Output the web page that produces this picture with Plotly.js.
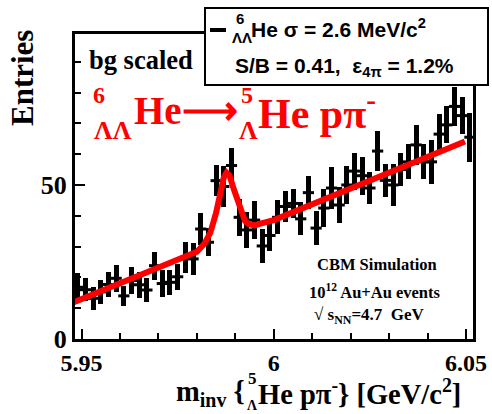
<!DOCTYPE html>
<html>
<head>
<meta charset="utf-8">
<script src="https://cdn.plot.ly/plotly-3.0.1.min.js"></script>
<style>
html,body{margin:0;padding:0;background:#fff;}
#chart{width:492px;height:414px;}
</style>
</head>
<body>
<div id="chart"></div>
<script>
// ---- data ----
const binCenters = [5.949, 5.951, 5.953, 5.955, 5.957, 5.959, 5.961, 5.963, 5.965, 5.967,
  5.969, 5.971, 5.973, 5.975, 5.977, 5.979, 5.981, 5.983, 5.985, 5.987,
  5.989, 5.991, 5.993, 5.995, 5.997, 5.999, 6.001, 6.003, 6.005, 6.007,
  6.009, 6.011, 6.013, 6.015, 6.017, 6.019, 6.021, 6.023, 6.025, 6.027,
  6.029, 6.031, 6.033, 6.035, 6.037, 6.039, 6.041, 6.043, 6.045, 6.047,
  6.049, 6.051];
const counts = [16.8, 16, 13.2, 15.3, 17.7, 19.7, 14, 19, 17.6, 15.9,
  23.8, 18, 18.4, 20.2, 26.5, 26, 35.7, 31.4, 51.4, 49.5,
  56.3, 39.5, 35.4, 38.6, 30.2, 33.6, 39.5, 43, 44, 39,
  47.5, 36, 42.5, 49, 43.5, 50, 54.5, 53, 49, 61,
  51.5, 50, 55, 57.5, 63, 57.5, 57.5, 66.5, 69.5, 75.5,
  72.5, 65.5];
const errors = [4.6, 3.8, 3.8, 3.8, 4.1, 4.3, 3.2, 4.3, 4.3, 3.8,
  4.6, 4.3, 4.1, 4.3, 5.1, 5.1, 5.1, 4.6, 5.1, 6.5,
  5.7, 6.0, 5.9, 6.3, 5.4, 5.0, 5.5, 5.1, 4.8, 5.4,
  5.4, 5.4, 6.2, 6.8, 6.0, 6.2, 6.0, 6.2, 5.2, 6.5,
  5.4, 6.8, 5.4, 5.7, 6.5, 5.7, 7.2, 6.5, 6.0, 6.2,
  6.0, 8.0];
// fit curve points
const fitX = [5.948, 5.980, 5.982, 5.9835, 5.985, 5.986, 5.987, 5.9877, 5.9885, 5.9895,
  5.9905, 5.9915, 5.9925, 5.9935, 5.995, 5.997, 6.000, 6.0497];
const fitY = [11.9, 28.3, 31.0, 34.5, 41.0, 47.5, 52.5, 54.0, 53.0, 49.0,
  45.0, 41.0, 38.3, 37.3, 36.9, 37.6, 38.6, 64.1];
const xTickVals = [5.95, 6.0, 6.05];
const xTickText = ['5.95', '6', '6.05'];
const yTickVals = [0, 50];
const yTickText = ['0', '50'];

// ---- layout helpers (pixel -> paper) ----
const L = 75, T = 34, W = 398, H = 305;
function P(px, py) { return {x: (px - L) / W, y: (T + H - py) / H}; }
const SERIF = 'Liberation Serif';
const SANS = 'Liberation Sans';
function ann(text, px, py, o) {
  o = o || {};
  const p = P(px, py);
  return {
    text: text, x: p.x, y: p.y, xref: 'paper', yref: 'paper', showarrow: false,
    xanchor: o.xanchor || 'center', yanchor: o.yanchor || 'middle',
    textangle: o.angle || 0, borderpad: 0,
    font: {family: o.family || SERIF, size: o.size || 16, color: o.color || '#000', weight: 'bold'}
  };
}

// error bars drawn as narrow bars from (count - err) to (count + err)
const barBase = counts.map((c, i) => c - errors[i]);
const barLen = errors.map(e => 2 * e);

const traces = [
  {
    type: 'bar', x: binCenters, base: barBase, y: barLen, width: 0.0013,
    marker: {color: '#000', line: {width: 0}}, showlegend: false, hoverinfo: 'skip'
  },
  {
    type: 'scatter', mode: 'markers', x: binCenters, y: counts,
    marker: {symbol: 'line-ew', size: 8, color: '#000', line: {width: 3, color: '#000'}},
    showlegend: false, hoverinfo: 'x+y'
  },
  {
    type: 'scatter', mode: 'lines', x: fitX, y: fitY,
    line: {color: '#ff0000', width: 6},
    showlegend: false
  }
];

const RED = '#ff0000';
const annotations = [
  ann('Entries', 22, 78, {size: 31, angle: -90}),
  ann('bg scaled', 88, 60, {size: 26.5, xanchor: 'left'}),
  // red decay label
  ann('6', 99, 95, {size: 24, color: RED}),
  ann('ΛΛ', 113, 130, {size: 26, color: RED}),
  ann('He⟶', 133, 110, {size: 39, color: RED, xanchor: 'left'}),
  ann('5', 247, 95, {size: 24, color: RED}),
  ann('Λ', 248, 130, {size: 26, color: RED}),
  ann('He pπ<sup>-</sup>', 257, 110, {size: 42, color: RED, xanchor: 'left'}),
  // legend box text
  ann('6', 240, 19, {size: 15, family: SANS}),
  ann('ΛΛ', 242, 37, {size: 15, family: SANS}),
  ann('He σ = 2.6 MeV/c<sup>2</sup>', 250, 28, {size: 21, family: SANS, xanchor: 'left'}),
  ann('S/B = 0.41,  ε<sub>4π</sub> = 1.2%', 234, 67, {size: 21, family: SANS, xanchor: 'left'}),
  // CBM text
  ann('CBM Simulation', 377, 264, {size: 16.5}),
  ann('10<sup>12</sup> Au+Au events', 375, 291, {size: 16.5}),
  ann('√ s<sub>NN</sub>=4.7  GeV', 313, 316, {size: 17, xanchor: 'left'}),
  // x title, split around the stacked 5/Λ
  ann('m<sub>inv</sub> {', 246, 393, {size: 28.5, xanchor: 'right'}),
  ann('5', 252, 378, {size: 17}),
  ann('Λ', 252, 405, {size: 14}),
  ann('He pπ<sup>-</sup>} [GeV/c<sup>2</sup>]', 257, 392, {size: 28.5, xanchor: 'left'})
];

const p1 = P(205, 8), p2 = P(488, 85), s1 = P(210, 30), s2 = P(226, 30);
const shapes = [
  {type: 'rect', xref: 'paper', yref: 'paper', x0: p1.x, y0: p1.y, x1: p2.x, y1: p2.y,
   line: {color: '#000', width: 2}, fillcolor: '#fff', layer: 'above'},
  {type: 'line', xref: 'paper', yref: 'paper', x0: s1.x, y0: s1.y, x1: s2.x, y1: s2.y,
   line: {color: '#000', width: 4}, layer: 'above'}
];

const axisCommon = {
  ticks: 'inside', ticklen: 10, tickwidth: 2, tickcolor: '#000',
  showline: true, linewidth: 3, linecolor: '#000', mirror: true,
  showgrid: false, zeroline: false
};

const layout = {
  width: 492, height: 414,
  margin: {l: L, r: 492 - L - W, t: T, b: 414 - T - H, pad: 0},
  paper_bgcolor: '#fff', plot_bgcolor: '#fff',
  showlegend: false, bargap: 0,
  xaxis: Object.assign({}, axisCommon, {
    range: [5.9483, 6.0518], tickmode: 'array', tickvals: xTickVals, ticktext: xTickText,
    tickfont: {family: SERIF, size: 24, color: '#000', weight: 'bold'},
    minor: {dtick: 0.01, tick0: 5.95, ticks: 'inside', ticklen: 6, tickwidth: 2, tickcolor: '#000', showgrid: false}
  }),
  yaxis: Object.assign({}, axisCommon, {
    range: [0, 99], tickmode: 'array', tickvals: yTickVals, ticktext: yTickText,
    tickfont: {family: SERIF, size: 26, color: '#000', weight: 'bold'},
    minor: {dtick: 10, tick0: 0, ticks: 'inside', ticklen: 6, tickwidth: 2, tickcolor: '#000', showgrid: false}
  }),
  annotations: annotations,
  shapes: shapes
};

Plotly.newPlot('chart', traces, layout, {staticPlot: true, displayModeBar: false});
</script>
</body>
</html>
